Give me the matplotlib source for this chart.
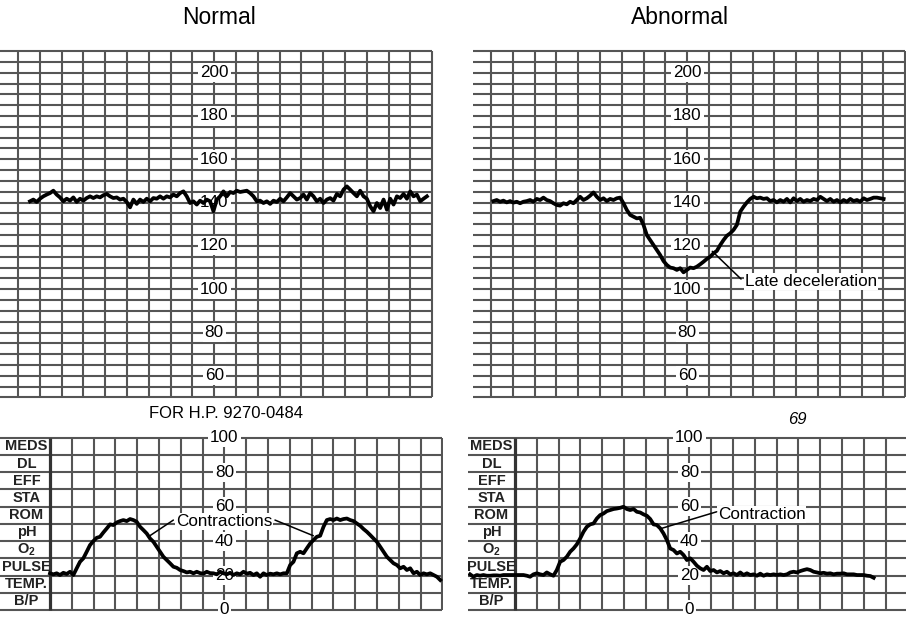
import numpy as np
import matplotlib
matplotlib.use("Agg")
import matplotlib.pyplot as plt

plt.rcParams['font.family'] = ['Liberation Sans', 'DejaVu Sans']

W, H = 906, 623
GRID = "#555555"

# ---------------------------------------------------------------------------
# data
# ---------------------------------------------------------------------------
STEP = 0.153  # grid squares between two samples

NORMAL_FHR_T0 = 0.55
NORMAL_FHR = [
    140.6, 141.4, 140.3, 141.8, 142.9, 143.7, 144.4, 145.5, 143.7, 142.4,
    140.6, 141.8, 140.9, 142.4, 140.3, 141.8, 140.9, 142.1, 142.9, 142.1,
    142.9, 142.4, 143.4, 144.0, 142.9, 142.1, 142.4, 141.4, 141.8, 140.3,
    137.8, 141.4, 139.4, 141.4, 140.3, 141.8, 140.6, 142.1, 141.8, 142.9,
    141.8, 142.9, 142.4, 143.7, 142.9, 144.4, 145.2, 142.9, 139.8, 140.6,
    139.1, 140.9, 139.8, 141.4, 140.6, 136.0, 141.4, 142.9, 145.2, 142.9,
    144.9, 144.4, 145.5, 144.9, 145.2, 145.5, 144.4, 142.9, 140.6, 140.9,
    139.8, 140.6, 139.4, 140.9, 140.3, 141.8, 140.6, 142.4, 144.4, 142.9,
    141.4, 142.1, 143.7, 141.4, 144.4, 142.9, 140.6, 141.8, 139.8, 141.4,
    142.1, 140.9, 144.0, 142.9, 146.0, 147.5, 146.0, 144.4, 142.9, 145.5,
    142.9, 141.8, 138.3, 136.0, 139.8, 137.5, 141.4, 136.7, 141.8, 139.1,
    142.9, 142.1, 144.0, 141.8, 145.2, 142.9, 143.7, 140.6, 141.8, 142.9,
]

ABNORMAL_FHR_T0 = 0.11
ABNORMAL_FHR = [
    140.7, 141.2, 140.4, 140.9, 140.1, 140.7, 140.0, 140.4, 139.7, 140.4,
    140.7, 141.2, 140.4, 141.7, 141.2, 142.3, 141.2, 140.7, 139.7, 138.9,
    138.6, 139.7, 139.2, 140.4, 139.7, 141.2, 142.7, 141.2, 142.0, 143.2,
    144.7, 142.7, 141.2, 142.0, 140.7, 141.7, 141.2, 142.0, 142.3, 139.7,
    136.6, 134.3, 133.5, 132.7, 133.0, 129.7, 125.0, 122.7, 120.4, 118.1,
    115.8, 113.0, 111.2, 110.0, 109.7, 108.9, 109.7, 107.8, 108.9, 110.0,
    109.7, 110.4,
    111.5, 112.7, 114.0, 115.0, 116.6, 117.7, 120.4, 122.7, 124.7, 125.8,
    127.4, 129.7, 135.8, 138.1, 140.1, 141.7, 142.7, 142.0, 142.3, 141.7,
    142.0, 140.7, 141.2, 140.1, 141.2, 140.4, 141.7, 140.1, 142.0, 140.7,
    141.7, 140.4, 141.2, 140.7, 141.7, 141.2, 142.7, 141.7, 140.7, 141.7,
    140.4, 141.2, 140.1, 141.2, 140.4, 141.7, 140.7, 141.2, 140.4, 142.0,
    141.2, 141.7, 142.3, 142.3, 142.0, 141.7,
]

NORMAL_UC_T0 = 0.0
NORMAL_UC = [
    21.3, 20.7, 21.3, 20.3, 21.6, 20.9, 22.2, 20.3, 24.2, 28.0,
    30.0, 33.8, 37.7, 40.0, 41.9, 42.5, 45.0, 47.3, 49.7, 49.3,
    50.8, 51.6, 52.2, 51.6, 52.8, 52.2, 51.2, 48.3, 46.4, 44.4,
    41.5, 39.6, 36.7, 33.8, 30.9, 29.0, 27.1, 25.1, 24.5, 23.2,
    22.6, 21.8, 22.2, 21.3, 22.2, 21.4, 21.1, 22.2, 21.4, 21.3,
    20.7, 22.2, 21.3, 20.7, 21.6, 20.3, 21.3, 20.7, 22.2, 21.1,
    21.6, 20.3, 21.3, 19.3, 21.3, 20.3, 21.1, 20.7, 21.3, 20.7,
    21.3, 21.3, 26.1, 28.0, 32.9, 33.8, 32.9, 35.8, 38.6, 40.6,
    42.5, 43.1, 48.3, 52.2, 52.8, 52.2, 53.1, 52.2, 52.8, 53.1,
    52.2, 51.6, 50.2, 48.9, 47.0, 45.4, 43.5, 41.5, 39.6, 36.7,
    33.8, 30.9, 29.0, 27.1, 26.1, 24.2, 25.1, 23.2, 24.2, 21.3,
    22.2, 20.3, 21.3, 20.7, 21.3, 20.3, 19.3, 17.4,
]

ABNORMAL_UC_T0 = -2.06
ABNORMAL_UC = [
    20.7, 19.3, 20.3, 19.9, 20.3, 19.9, 19.9, 20.1, 20.1, 19.9,
    20.3, 20.3, 20.3, 20.3, 20.3, 20.3, 20.3, 19.9, 19.3, 20.7,
    21.3, 20.7, 20.3, 21.8, 20.7, 19.9, 23.2, 28.0, 29.0, 30.9,
    33.8, 35.7, 38.1, 41.5, 45.4, 48.3, 49.7, 50.2, 53.1, 55.1,
    56.0, 57.4, 58.0, 58.6, 58.9, 59.3, 59.9, 58.6, 58.0, 58.6,
    57.0, 56.6, 55.5, 54.7, 52.8, 49.7, 49.3, 47.4, 44.4, 40.6,
    35.7, 34.8, 32.8, 33.8, 31.9, 29.0, 30.0, 28.0, 25.7, 24.2,
    23.2, 25.1, 22.6, 23.2, 21.8, 22.6, 21.3, 22.2, 20.7, 21.3,
    20.3, 21.8, 20.3, 21.3, 20.3, 20.7, 19.9, 21.1, 19.9, 20.7,
    20.3, 20.7, 20.3, 20.7, 20.3, 20.7, 21.8, 22.2, 21.8, 22.6,
    23.2, 23.7, 23.2, 22.2, 21.8, 21.3, 21.6, 21.1, 21.3, 20.7,
    21.1, 21.1, 21.3, 20.7, 20.7, 20.7, 20.3, 20.3, 20.3, 19.9,
    19.7, 18.7,
]

FHR_TICKS = [60, 80, 100, 120, 140, 160, 180, 200]
UC_TICKS = [0, 20, 40, 60, 80, 100]
ROW_LABELS = ["MEDS", "DL", "EFF", "STA", "ROM", "pH",
              r"O$_\mathregular{2}$", "PULSE", "TEMP.", "B/P"]


def px_axes(fig, ox, oy, sx, sy, xlim, ylim):
    # place an axes so that data -> pixel mapping matches the paper grid
    left, right = ox + sx * xlim[0], ox + sx * xlim[1]
    top, bottom = oy - sy * ylim[1], oy - sy * ylim[0]
    ax = fig.add_axes([left / W, 1 - bottom / H, (right - left) / W, (bottom - top) / H])
    ax.set_xlim(*xlim); ax.set_ylim(*ylim)
    ax.axis("off")
    return ax


def fhr_panel(fig, ox, t0, values):
    ax = px_axes(fig, ox, 505.7, 21.8, 2.165, (-0.83, 19.08), (49, 211))
    ax.hlines(np.arange(50, 211, 5), -0.83, 19, color=GRID, lw=1.5, zorder=1)
    ax.vlines(np.arange(0, 20), 50, 210, color=GRID, lw=1.5, zorder=1)
    for v in FHR_TICKS:
        ax.text(9, v, str(v), ha="center", va="center", fontsize=12.3, zorder=2,
                bbox=dict(boxstyle="square,pad=0.12", fc="white", ec="none"))
    t = t0 + STEP * np.arange(len(values))
    ax.plot(t, values, color="black", lw=2.7, zorder=3, solid_joinstyle="round")
    return ax


def uc_panel(fig, ox, xmin, t0, values):
    ax = px_axes(fig, ox, 610, 21.8, 1.723, (xmin, 18.05), (-1, 101))
    ax.hlines(np.arange(0, 101, 10), xmin, 18, color=GRID, lw=1.5, zorder=1)
    ax.vlines(np.arange(1, 19), 0, 100, color=GRID, lw=1.5, zorder=1)
    ax.vlines(0, 0, 100, color="#333333", lw=2.3, zorder=1)
    for i, lab in enumerate(ROW_LABELS):
        ax.text(-1.08, 95 - 10 * i, lab, ha="center", va="center", fontsize=10.5,
                fontweight="bold", color="#222222", zorder=2)
    for v in UC_TICKS:
        ax.text(8, v, str(v), ha="center", va="center", fontsize=12.3, zorder=2,
                bbox=dict(boxstyle="square,pad=0.12", fc="white", ec="none"))
    t = t0 + STEP * np.arange(len(values))
    ax.plot(t, values, color="black", lw=2.7, zorder=3, solid_joinstyle="round")
    return ax


fig = plt.figure(figsize=(W / 100, H / 100), dpi=100)

ax_nf = fhr_panel(fig, 18, NORMAL_FHR_T0, NORMAL_FHR)
ax_af = fhr_panel(fig, 491, ABNORMAL_FHR_T0, ABNORMAL_FHR)
ax_nu = uc_panel(fig, 50, -2.3, NORMAL_UC_T0, NORMAL_UC)
ax_au = uc_panel(fig, 515, -2.16, ABNORMAL_UC_T0, ABNORMAL_UC)

fig.text(219 / W, 1 - 18 / H, "Normal", ha="center", va="center", fontsize=16.5)
fig.text(680 / W, 1 - 18 / H, "Abnormal", ha="center", va="center", fontsize=16.5)
fig.text(226 / W, 1 - 413 / H, "FOR H.P. 9270-0484", ha="center", va="center", fontsize=12)
fig.text(797 / W, 1 - 419 / H, "69", ha="center", va="center", fontsize=12, style="italic")

box = dict(boxstyle="square,pad=0.05", fc="white", ec="none")
line = dict(arrowstyle="-", lw=1.1, color="black", shrinkA=0, shrinkB=0)

# normal: one label, two pointers
ax_nu.text(7.99, 51.2, "Contractions", ha="center", va="center", fontsize=12.3, zorder=4, bbox=box)
ax_nu.annotate("", xy=(4.51, 42.5), xytext=(5.66, 52.2), arrowprops=line, zorder=4)
ax_nu.annotate("", xy=(12.08, 43.1), xytext=(10.32, 52.2), arrowprops=line, zorder=4)

# abnormal
ax_af.text(11.65, 103.5, "Late deceleration", ha="left", va="center", fontsize=12.3, zorder=4, bbox=box)
ax_af.annotate("", xy=(10.15, 117.5), xytext=(11.47, 104.7), arrowprops=line, zorder=4)

ax_au.text(9.3, 55.5, "Contraction", ha="left", va="center", fontsize=12.3, zorder=4, bbox=box)
ax_au.annotate("", xy=(6.73, 47.4), xytext=(9.25, 57.0), arrowprops=line, zorder=4)

fig.savefig("out.png", dpi=100)
